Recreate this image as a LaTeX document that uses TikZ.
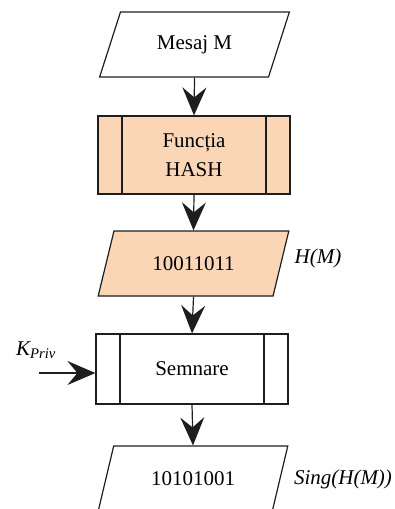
\documentclass[tikz,border=0pt]{standalone}
\usepackage{fontspec}
\setmainfont{Liberation Serif}
\usetikzlibrary{arrows.meta, shapes.geometric}

\definecolor{peach}{RGB}{250,214,182}
\definecolor{ink}{RGB}{30,30,30}

\begin{document}
\begin{tikzpicture}[
    x=1pt,
    y=-1pt,
    font=\fontsize{21}{29}\selectfont,
    line width=1.2pt,
    draw=ink,
    io/.style={draw=ink, trapezium, trapezium left angle=60, trapezium right angle=120,
        trapezium stretches=true, minimum width=191pt, minimum height=65pt, inner sep=0pt},
    proc/.style={draw=ink, rectangle, minimum width=192pt, inner sep=0pt, align=center,
        path picture={
            \draw[ink, line width=1.2pt] ([xshift=24pt]path picture bounding box.north west) -- ([xshift=24pt]path picture bounding box.south west);
            \draw[ink, line width=1.2pt] ([xshift=-24pt]path picture bounding box.north east) -- ([xshift=-24pt]path picture bounding box.south east);
        }},
    lbl/.style={font=\fontsize{21}{24}\selectfont\itshape},
    e/.style={draw=ink, -{Stealth[length=28pt, width=24pt, inset=10pt]}},
]
    \useasboundingbox (0, 0) rectangle (395, 509);
    \clip (0, 0) rectangle (395, 509);

    % blocks
    \node[io] (msg) at (194.5, 44.5) {Mesaj M};
    \node[proc, fill=peach, minimum height=78pt] (hash) at (194, 155) {Funcția\\HASH};
    \node[io, fill=peach] (hm) at (193.5, 263.5) {10011011};
    \node[proc, minimum height=70pt] (sign) at (192, 369) {Semnare};
    \node[io] (out) at (193, 478.5) {10101001};

    % labels
    \node[lbl] (hmlbl) at (318, 258) {H(M)};
    \node[lbl] (outlbl) at (343, 479) {Sing(H(M))};
    \node[lbl] (klbl) at (36, 350) {K\textsubscript{Priv}};
    \coordinate (kin) at (39, 373);

    % flow
    \path[e] (msg.south) -- (hash.north);
    \path[e] (hash.south) -- (hm.south |- hm.north);
    \path[e] (hm.south) -- (sign.north);
    \path[e] (sign.south) -- (out.south |- out.north);
    \path[e] (kin) -- (sign.west |- kin);
\end{tikzpicture}
\end{document}
